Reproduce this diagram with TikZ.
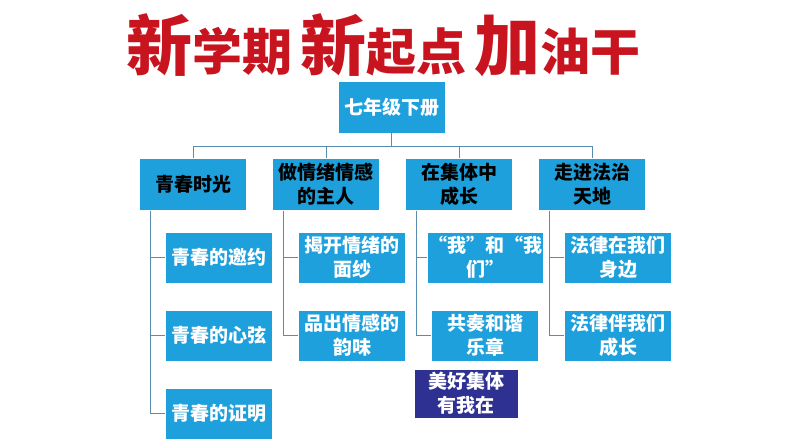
\documentclass[tikz,border=0pt]{standalone}
\usepackage{fontspec}
\setmainfont{Noto Sans CJK SC}
\usetikzlibrary{positioning}
\definecolor{boxblue}{RGB}{30,160,220}
\definecolor{linegray}{RGB}{90,140,175}
\definecolor{navy}{RGB}{46,49,146}
\definecolor{titlered}{RGB}{200,20,30}
\tikzset{
  topbox/.style={draw=white, fill=boxblue, text=white, minimum width=107pt, minimum height=52pt, align=center, inner sep=1pt, font=\bfseries\fontsize{19}{24}\selectfont},
  headbox/.style={topbox, text=black},
  leafbox/.style={topbox, minimum height=51pt},
  extrabox/.style={topbox, fill=navy, minimum width=104pt, minimum height=49pt},
  link/.style={draw=linegray, line width=0.9pt}
}
\begin{document}
\begin{tikzpicture}[x=1pt, y=-1pt]
  \useasboundingbox (0,0) rectangle (794,447);

  % title
  \node [text=titlered, font=\bfseries, anchor=base west, inner sep=0pt] (title) at (126,70)
  {{\fontsize{66}{70}\selectfont 新}{\fontsize{50}{54}\selectfont 学期\,}{\fontsize{66}{70}\selectfont 新}{\fontsize{50}{54}\selectfont 起点\,}{\fontsize{66}{70}\selectfont 加}{\fontsize{50}{54}\selectfont 油干}};

  \node [topbox] (root) at (391.5,107) {七年级下册};

  \foreach \t [count=\i] in {青春时光, 做情绪情感\\的主人, 在集体中\\成长, 走进法治\\天地}
  \node [headbox] (head-\i) at ({193+(\i-1)*133},184.5) {\t};

  \foreach \t [count=\j] in {青春的邀约, 青春的心弦, 青春的证明}
  \node [leafbox] (leaf1-\j) at (219,{257.5+(\j-1)*78}) {\t};

  \foreach \t [count=\j] in {揭开情绪的\\面纱, 品出情感的\\韵味}
  \node [leafbox] (leaf2-\j) at (352,{257.5+(\j-1)*78}) {\t};

  \foreach \t [count=\j] in {“我”和“我\\们”, 共奏和谐\\乐章}
  \node [leafbox] (leaf3-\j) at (485,{257.5+(\j-1)*78}) {\t};

  \foreach \t [count=\j] in {法律在我们\\身边, 法律伴我们\\成长}
  \node [leafbox] (leaf4-\j) at (618,{257.5+(\j-1)*78}) {\t};

  \node [extrabox] (extra) at (466,393.5) {美好集体\\有我在};

  % connectors
  \coordinate (bar) at (0,146);
  \foreach \i in {1,...,4}
  \draw [link] (root.south) |- (bar -| head-\i) -- (head-\i.north);

  \foreach \j in {1,...,3}
  \draw [link] ([xshift=11pt]head-1.south west) |- (leaf1-\j.west);
  \foreach \c in {2,3,4}
  \foreach \j in {1,2}
  \draw [link] ([xshift=11pt]head-\c.south west) |- (leaf\c-\j.west);

\end{tikzpicture}
\end{document}
